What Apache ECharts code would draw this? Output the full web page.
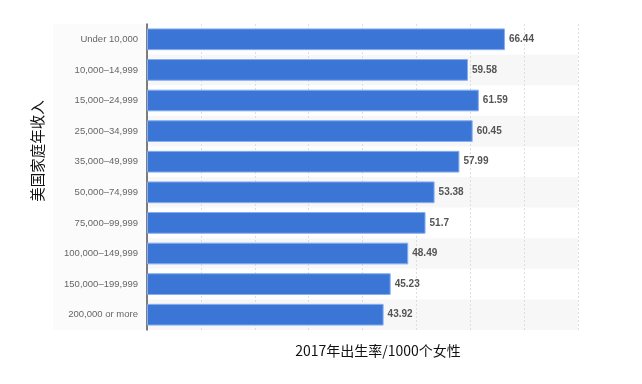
<!DOCTYPE html>
<html><head><meta charset="utf-8">
<script src="https://cdn.jsdelivr.net/npm/echarts@6/dist/echarts.min.js"></script>
<style>html,body{margin:0;padding:0;background:#fff}#c{width:642px;height:384px}</style>
</head><body><div id="c"></div>
<script>
const categories = ["Under 10,000","10,000–14,999","15,000–24,999","25,000–34,999","35,000–49,999","50,000–74,999","75,000–99,999","100,000–149,999","150,000–199,999","200,000 or more"];
const values = [66.44, 59.58, 61.59, 60.45, 57.99, 53.38, 51.7, 48.49, 45.23, 43.92];
const xName = "2017年出生率/1000个女性";
const yName = "美国家庭年收入";

const chart = echarts.init(document.getElementById('c'), null, {renderer:'canvas'});
chart.setOption({
  animation:false,
  grid:{left:147, right:64, top:24, bottom:54, outerBoundsMode:'none', containLabel:false},
  graphic:[
    {type:'rect', z:-10, silent:true, shape:{x:53, y:24, width:94, height:306}, style:{fill:'#fbfbfb'}},
    {type:'text', x:378, y:351, style:{text:xName, fill:'#111', font:'14px "Noto Sans CJK SC"', align:'center', verticalAlign:'middle'}},
    {type:'text', x:37, y:151, rotation:Math.PI/2, style:{text:yName, fill:'#111', font:'14.5px "Noto Sans CJK SC"', align:'center', verticalAlign:'middle'}}
  ],
  xAxis:{type:'value', min:0, max:80, interval:10,
    axisLabel:{show:false}, axisLine:{show:false}, axisTick:{show:false},
    splitLine:{show:true, lineStyle:{color:'#dedede', type:[2,2], width:1}}
  },
  yAxis:{type:'category', data:categories, inverse:true,
    axisLine:{show:true, lineStyle:{color:'#555', width:1.5}},
    axisTick:{show:false},
    axisLabel:{color:'#666', fontSize:9.5, margin:9, fontFamily:'Liberation Sans'},
    splitArea:{show:true, areaStyle:{color:['rgba(255,255,255,0)','#f7f7f7']}}
  },
  series:[{type:'bar', data:values, barWidth:'71%',
    itemStyle:{color:'#3b76d6', borderColor:'#86aef0', borderWidth:1},
    label:{show:true, position:'right', distance:4, color:'#555', fontSize:10, fontWeight:'bold', fontFamily:'Liberation Sans'}
  }]
});
</script></body></html>
